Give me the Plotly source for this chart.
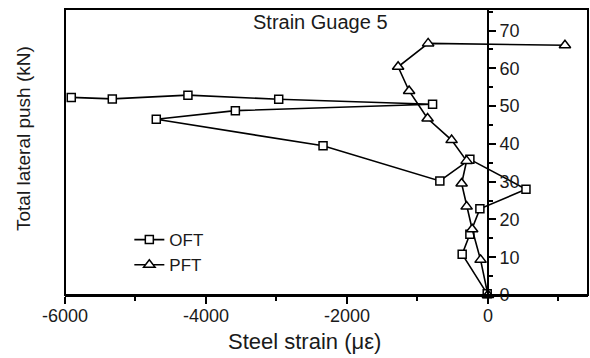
import plotly.graph_objects as go

# OFT series (strain in micro-strain, lateral push in kN)
oft_strain = [-10, -365, -256, -114, 540, -256, -682, -2339, -4705, -3583, -785, -2968, -4256, -5329, -5911]
oft_push = [0.3, 10.8, 16.1, 22.8, 28.0, 35.9, 30.2, 39.5, 46.5, 48.8, 50.5, 51.8, 52.9, 51.9, 52.3]

# PFT series
pft_strain = [0, -104, -223, -302, -373, -302, -515, -856, -1118, -1274, -848, 1093]
pft_push = [0.0, 9.3, 17.4, 23.4, 29.5, 35.5, 41.0, 46.7, 54.0, 60.4, 66.6, 66.1]

x_ticks = [-6000, -4000, -2000, 0]
y_ticks = [0, 10, 20, 30, 40, 50, 60, 70]
x_range = [-6000, 1420]
y_range = [0, 75.7]

FONT = "Liberation Sans, Arial, sans-serif"
INK = "#1a1a1a"

fig = go.Figure()
fig.add_trace(go.Scatter(
    x=oft_strain, y=oft_push, name="OFT", mode="lines+markers",
    line=dict(color="black", width=1.6),
    marker=dict(symbol="square", size=8, color="white", line=dict(color="black", width=1.5)),
    cliponaxis=False,
))
fig.add_trace(go.Scatter(
    x=pft_strain, y=pft_push, name="PFT", mode="lines+markers",
    line=dict(color="black", width=1.6),
    marker=dict(symbol="triangle-up", size=10, color="white", line=dict(color="black", width=1.5)),
    cliponaxis=False,
))

x0_frac = (0 - x_range[0]) / (x_range[1] - x_range[0])

fig.update_layout(
    width=590, height=358,
    margin=dict(l=65, r=2, t=9, b=63),
    paper_bgcolor="white", plot_bgcolor="white",
    font=dict(family=FONT, color=INK, size=18),
    showlegend=True,
    legend=dict(
        x=0.123, y=0.255, xanchor="left", yanchor="top",
        bgcolor="rgba(0,0,0,0)", font=dict(size=17, family=FONT, color=INK),
        tracegroupgap=0, itemwidth=30,
    ),
    xaxis=dict(
        range=x_range, tickvals=x_ticks, ticktext=[str(v) for v in x_ticks],
        showgrid=False, zeroline=False, showline=True, linecolor="black", linewidth=2,
        ticks="outside", ticklen=7, tickwidth=2, tickcolor="black",
        ticklabelstandoff=-4,
        tickfont=dict(size=18, family=FONT, color=INK),
        minor=dict(ticks="outside", ticklen=4, tickwidth=2, tickcolor="black", dtick=1000, tick0=0),
    ),
    yaxis=dict(
        range=y_range, tickvals=y_ticks, ticktext=[str(v) for v in y_ticks],
        anchor="free", position=x0_frac, side="right",
        showgrid=False, zeroline=False, showline=True, linecolor="black", linewidth=2,
        ticks="outside", ticklen=7, tickwidth=2, tickcolor="black",
        tickfont=dict(size=18, family=FONT, color=INK),
        minor=dict(ticks="outside", ticklen=4, tickwidth=2, tickcolor="black", dtick=5, tick0=0),
    ),
    shapes=[dict(type="rect", xref="paper", yref="paper", x0=0, x1=1, y0=0, y1=1,
                 line=dict(color="black", width=2), fillcolor="rgba(0,0,0,0)", layer="above")],
    annotations=[
        dict(text="Strain Guage 5", xref="paper", yref="paper", x=0.4876, y=0.9545,
             xanchor="center", yanchor="middle", showarrow=False,
             font=dict(size=20, family=FONT, color=INK)),
        dict(text="Total lateral push (kN)", xref="paper", yref="paper", x=-0.0784, y=0.549,
             xanchor="center", yanchor="middle", showarrow=False, textangle=-90,
             font=dict(size=19, family=FONT, color=INK)),
        dict(text="Steel strain (\u03bc\u03b5)", xref="paper", yref="paper", x=0.457, y=-0.164,
             xanchor="center", yanchor="middle", showarrow=False,
             font=dict(size=22, family=FONT, color=INK)),
    ],
)

fig.write_html("out.html")
